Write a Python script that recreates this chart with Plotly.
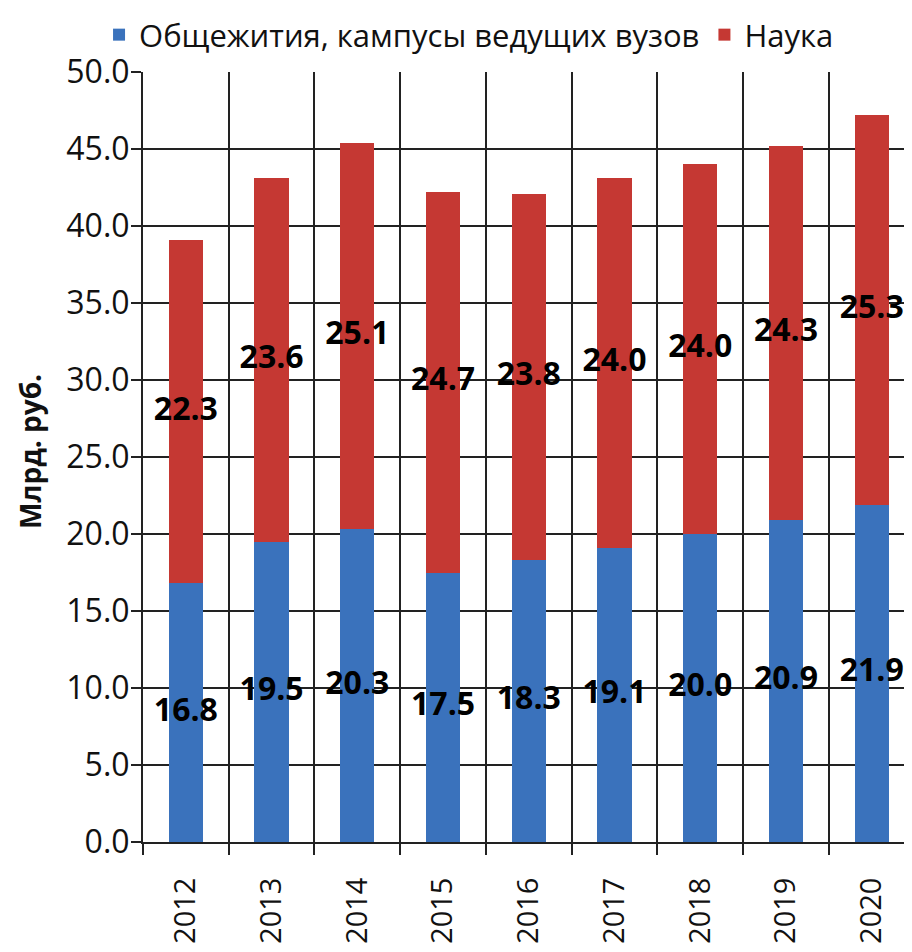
import plotly.graph_objects as go

years = ["2012", "2013", "2014", "2015", "2016", "2017", "2018", "2019", "2020"]
dorms = [16.8, 19.5, 20.3, 17.5, 18.3, 19.1, 20.0, 20.9, 21.9]
science = [22.3, 23.6, 25.1, 24.7, 23.8, 24.0, 24.0, 24.3, 25.3]
y_ticks = [0, 5, 10, 15, 20, 25, 30, 35, 40, 45, 50]

xs = list(range(len(years)))
FONT = "Open Sans, Noto Sans, DejaVu Sans, sans-serif"

# the page body has an 8px default margin, so the figure is sized to fit the window
W, H = 904, 944

fig = go.Figure()
fig.add_trace(go.Bar(
    x=xs, y=dorms, name="Общежития, кампусы ведущих вузов",
    marker=dict(color="#3a72bc", line=dict(width=0)), width=0.4,
))
fig.add_trace(go.Bar(
    x=xs, y=science, name="Наука",
    marker=dict(color="#c53833", line=dict(width=0)), width=0.4,
))

# data labels centred in each segment
lab_x = xs + xs
lab_y = [d / 2 for d in dorms] + [d + s / 2 for d, s in zip(dorms, science)]
lab_t = [f"{v:.1f}" for v in dorms] + [f"{v:.1f}" for v in science]
fig.add_trace(go.Scatter(
    x=lab_x, y=lab_y, text=lab_t, mode="text", showlegend=False,
    textfont=dict(family=FONT, size=32, color="#000000", weight="bold"),
    hoverinfo="skip", cliponaxis=False,
))

fig.update_layout(
    barmode="stack",
    width=W, height=H,
    margin=dict(l=135, r=0, t=64, b=110, autoexpand=False),
    paper_bgcolor="white", plot_bgcolor="white",
    font=dict(family=FONT, size=32, color="#111111"),
    legend=dict(
        orientation="h", xref="container", yref="container",
        x=0.51, xanchor="center", y=1.0, yanchor="top",
        bgcolor="rgba(0,0,0,0)",
        font=dict(size=31, family=FONT, color="#111111"),
        itemwidth=30, traceorder="normal",
    ),
    showlegend=True,
)

fig.update_xaxes(
    range=[-0.5, 8.47], automargin=False,
    tickmode="array", tickvals=xs, ticktext=years,
    tickangle=-90, ticks="", ticklabelstandoff=22,
    showgrid=False, zeroline=False,
    showline=True, linecolor="#222222", linewidth=2,
    tickfont=dict(size=29, family=FONT, color="#111111"),
    minor=dict(
        tickmode="array", tickvals=[i - 0.5 for i in range(len(years) + 1)],
        showgrid=True, gridcolor="#222222", gridwidth=2,
        ticks="outside", ticklen=11, tickcolor="#222222", tickwidth=2,
    ),
)
fig.update_yaxes(
    range=[0, 50], automargin=False,
    tickmode="array", tickvals=y_ticks, ticktext=[f"{v:.1f}" for v in y_ticks],
    ticks="outside", ticklen=10, tickcolor="#222222", tickwidth=2,
    ticklabelstandoff=-5,
    showgrid=True, gridcolor="#222222", gridwidth=2,
    zeroline=False, showline=True, linecolor="#222222", linewidth=2,
    tickfont=dict(size=32, family=FONT, color="#111111"),
)

pw = W - 135
ph = H - 64 - 110
fig.add_annotation(
    text="<b>Млрд. руб.</b>", textangle=-90,
    xref="paper", yref="paper", x=(22 - 135) / pw, y=(834 - 444) / ph,
    xanchor="center", yanchor="middle", showarrow=False,
    font=dict(size=28, family=FONT, color="#111111"),
)

fig.write_html("out.html")
